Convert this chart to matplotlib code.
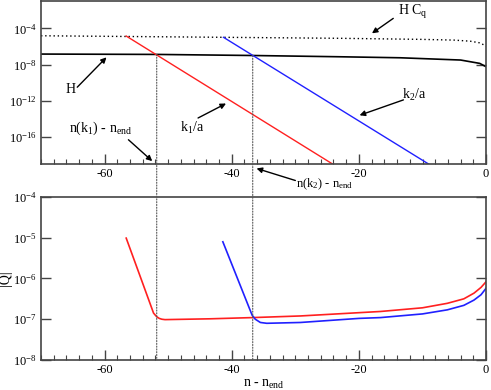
import matplotlib
matplotlib.use("Agg")
import matplotlib.pyplot as plt
import numpy as np
from matplotlib.ticker import MultipleLocator, FixedLocator, FuncFormatter, NullLocator
from matplotlib.patches import ConnectionPatch

plt.rcParams['font.family'] = ['Liberation Serif', 'DejaVu Serif']
plt.rcParams['mathtext.fontset'] = 'custom'
plt.rcParams['mathtext.rm'] = 'Liberation Serif'
plt.rcParams['mathtext.it'] = 'Liberation Serif:italic'

# ---- data (n - n_end, log10 values) ----
H_n = [-70, -51.8, -36.6, -22.9, -13.5, -4.0, -1.0, 0.0]
H_log = [-6.84, -6.88, -7.0, -7.14, -7.25, -7.5, -7.87, -8.24]

HCq_n = [-70, -56.5, -41.3, -23.0, -10.0, -5.0, -2.5, -1.0, 0.0]
HCq_log = [-4.82, -4.90, -4.99, -5.10, -5.22, -5.30, -5.42, -5.60, -5.95]

k1_n = [-56.6, -24.1]
k1_log = [-4.85, -19.0]
k2_n = [-41.3, -9.0]
k2_log = [-4.99, -19.0]

Q1_n = [-56.6, -54.4, -52.3, -51.8, -51.4, -51.0, -50.5, -43.4, -36.7, -29.2,
        -16.6, -10.0, -6.1, -3.5, -1.9, -0.8, 0.0]
Q1_log = [-5.01, -5.95, -6.85, -6.94, -6.98, -7.0, -7.01, -6.99, -6.96, -6.92,
          -6.81, -6.72, -6.61, -6.50, -6.36, -6.22, -6.08]

Q2_n = [-41.4, -39.1, -36.8, -36.3, -35.5, -34.5, -29.2, -20.0, -16.6, -10.0,
        -6.1, -3.5, -1.9, -0.8, 0.0]
Q2_log = [-5.10, -6.00, -6.90, -7.00, -7.08, -7.10, -7.08, -6.98, -6.96, -6.87,
          -6.77, -6.66, -6.53, -6.40, -6.24]

n_cross1 = -51.8
n_cross2 = -36.7

def p(v):
    return 10.0 ** np.asarray(v)

fig = plt.figure(figsize=(4.91, 3.90), dpi=100)
ax1 = fig.add_axes([0.0835, 0.579, 0.9065, 0.418])
ax2 = fig.add_axes([0.0835, 0.077, 0.9065, 0.418])

spine_col = '#444444'
def style(ax):
    ax.set_yscale('log')
    ax.set_xlim(-70, 0)
    ax.xaxis.set_major_locator(MultipleLocator(20))
    ax.xaxis.set_minor_locator(MultipleLocator(2))
    ax.yaxis.set_minor_locator(NullLocator())
    ax.tick_params(which='both', direction='in', top=False, right=True,
                   colors=spine_col, labelcolor='black', labelsize=9, pad=3)
    ax.tick_params(which='major', length=7, width=1.0)
    ax.tick_params(which='minor', length=3.5, width=0.8)
    for s in ax.spines.values():
        s.set_color(spine_col)
        s.set_linewidth(1.2)
    ax.xaxis.set_major_formatter(FuncFormatter(lambda v, pos: '%d' % v))
    ax.yaxis.set_major_formatter(FuncFormatter(
        lambda v, pos: r'$\mathregular{10^{%d}}$' % int(round(np.log10(v)))))

style(ax1)
style(ax2)

ax1.set_ylim(1e-19, 1e-1)
ax1.yaxis.set_major_locator(FixedLocator([1e-16, 1e-12, 1e-8, 1e-4]))
ax2.set_ylim(1e-8, 1e-4)
ax2.yaxis.set_major_locator(FixedLocator([1e-8, 1e-7, 1e-6, 1e-5, 1e-4]))

# top panel
ax1.plot(H_n, p(H_log), color='black', lw=1.2)
ax1.plot(HCq_n, p(HCq_log), color='black', lw=1.0, ls=(0, (1, 2)))
ax1.plot(k1_n, p(k1_log), color='#ff2020', lw=1.0)
ax1.plot(k2_n, p(k2_log), color='#2020ff', lw=1.0)

# bottom panel
ax2.plot(Q1_n, p(Q1_log), color='#ff2020', lw=1.2)
ax2.plot(Q2_n, p(Q2_log), color='#2020ff', lw=1.2)
ax2.set_ylabel('|Q|', fontsize=10)
ax2.yaxis.set_label_coords(-0.066, 0.5)
ax2.set_xlabel(r'n - n$_{\mathregular{end}}$', fontsize=10, labelpad=1)

# vertical dotted connectors
for nc in (n_cross1, n_cross2):
    hv = 10 ** np.interp(nc, H_n, H_log)
    con = ConnectionPatch(xyA=(nc, hv), coordsA=ax1.transData,
                          xyB=(nc, 1e-8), coordsB=ax2.transData,
                          color='#555555', lw=0.8, ls=(0, (1, 1.5)))
    fig.add_artist(con)

# annotations
arw = dict(arrowstyle='-|>', color='black', lw=1.0, mutation_scale=8,
           shrinkA=0, shrinkB=0)
def arrow(tail, head):
    ax1.annotate('', xy=(head[0], 10 ** head[1]), xytext=(tail[0], 10 ** tail[1]),
                 arrowprops=arw, annotation_clip=False)

fs = 10
ax1.text(-65.4, 10 ** -10.8, 'H', fontsize=fs, ha='center', va='center')
arrow((-64.3, -10.5), (-59.7, -7.2))

ax1.text(-11.6, 10 ** -2.2, r'H C$_\mathregular{q}$', fontsize=fs, ha='center', va='center')
arrow((-14.6, -2.9), (-17.95, -4.55))

ax1.text(-46.3, 10 ** -15.05, r'k$_\mathregular{1}$/a', fontsize=fs, ha='center', va='center')
arrow((-45.3, -13.9), (-40.9, -12.3))

ax1.text(-11.4, 10 ** -11.4, r'k$_\mathregular{2}$/a', fontsize=fs, ha='center', va='center')
arrow((-13.0, -11.9), (-19.9, -13.6))

ax1.text(-60.6, 10 ** -15.05, r'n(k$_\mathregular{1}$) - n$_\mathregular{end}$',
         fontsize=fs, ha='center', va='center')
arrow((-56.25, -16.3), (-52.5, -18.66))

ax1.text(-29.9, 10 ** -21.2, r'n(k$_\mathregular{2}$) - n$_\mathregular{end}$',
         fontsize=9, ha='left', va='center', clip_on=False)
arrow((-30.0, -20.8), (-36.1, -19.47))

fig.savefig('out.png', dpi=100)
